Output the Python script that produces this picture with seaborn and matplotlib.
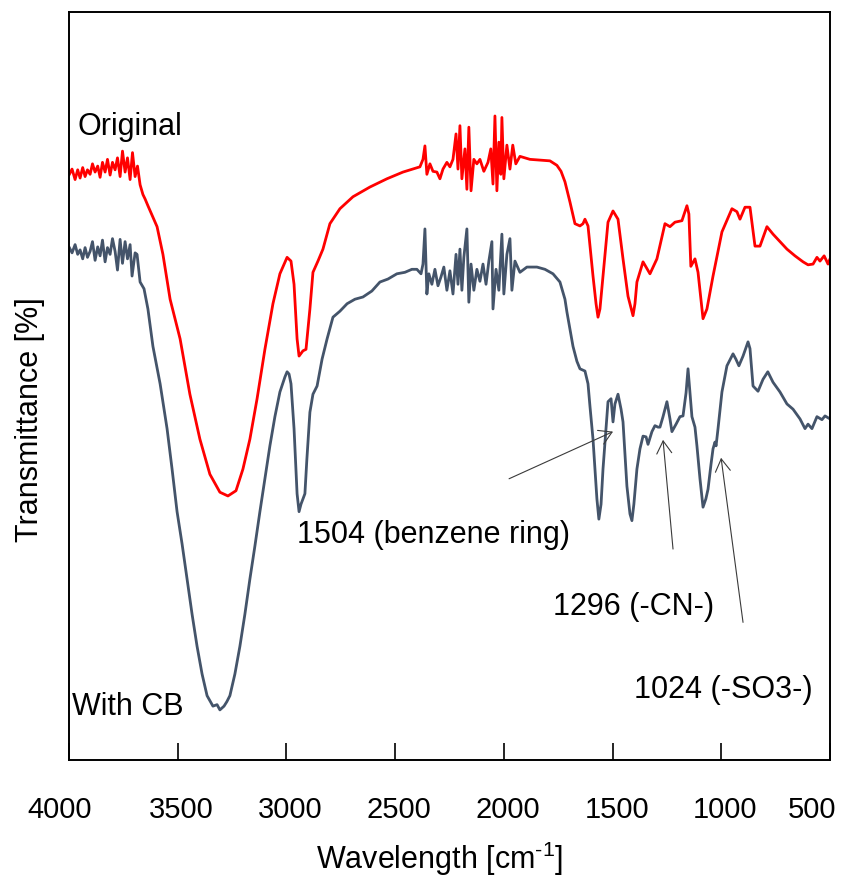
import numpy as np
import pandas as pd
import matplotlib
matplotlib.use("Agg")
import matplotlib.pyplot as plt
import matplotlib.transforms as mtransforms
import seaborn as sns

# ---------------- data ----------------
orig_wn = [4000, 3986, 3972, 3960, 3949, 3937, 3926, 3915, 3903, 3892, 3880, 3868, 3857, 3846, 3834,
           3823, 3811, 3800, 3788, 3777, 3765, 3754, 3742, 3731, 3719, 3708, 3696, 3685, 3673, 3660,
           3650, 3637, 3595, 3568, 3535, 3489, 3444, 3398, 3352, 3306, 3269, 3232, 3200, 3168, 3135,
           3099, 3062, 3030, 2997, 2979, 2965, 2951, 2942, 2924, 2910, 2892, 2878, 2855, 2832, 2800,
           2754, 2694, 2616, 2538, 2464, 2386, 2372, 2363, 2354, 2340, 2326, 2308, 2294, 2280, 2262,
           2248, 2234, 2220, 2211, 2202, 2193, 2179, 2170, 2161, 2151, 2138, 2124, 2110, 2092, 2073,
           2060, 2050, 2041, 2032, 2023, 2014, 2009, 2000, 1986, 1972, 1959, 1945, 1926, 1880, 1834,
           1788, 1756, 1737, 1719, 1696, 1673, 1650, 1636, 1627, 1613, 1590, 1576, 1567, 1558, 1544,
           1521, 1498, 1475, 1452, 1429, 1406, 1397, 1388, 1360, 1328, 1296, 1259, 1236, 1213, 1181,
           1158, 1149, 1140, 1121, 1107, 1084, 1066, 1038, 997, 951, 928, 914, 891, 868, 845,
           822, 790, 762, 698, 661, 624, 601, 578, 560, 546, 527, 509, 500]
orig_T = [78.2, 79.0, 77.6, 78.9, 77.8, 79.2, 78.0, 78.9, 78.3, 79.7, 78.6, 79.4, 77.9, 79.9, 78.6,
          80.3, 78.2, 79.9, 78.9, 80.5, 78.0, 81.4, 78.6, 80.5, 77.6, 81.2, 78.0, 79.4, 76.9, 75.6,
          75.0, 74.1, 71.3, 67.6, 61.6, 56.3, 48.9, 42.9, 38.2, 35.8, 35.3, 36.0, 38.9, 42.9, 48.3,
          54.9, 61.0, 65.0, 67.2, 66.7, 63.6, 56.3, 54.0, 54.7, 54.9, 60.3, 65.2, 66.7, 68.3, 71.7,
          73.7, 75.3, 76.6, 77.7, 78.6, 79.3, 80.3, 82.1, 78.3, 79.7, 78.7, 78.6, 77.7, 79.0, 79.9,
          79.3, 80.3, 83.7, 79.0, 84.8, 77.7, 81.7, 76.3, 84.6, 76.1, 80.3, 79.7, 80.3, 78.7, 79.9,
          81.7, 77.0, 86.1, 76.1, 82.6, 78.3, 85.9, 77.7, 82.2, 79.0, 82.2, 79.7, 80.7, 80.3, 80.2,
          80.1, 79.5, 78.7, 77.3, 74.6, 71.7, 71.4, 71.7, 72.3, 71.4, 64.7, 61.0, 59.2, 60.3, 64.7,
          71.9, 73.4, 72.3, 67.0, 62.0, 59.4, 61.0, 63.9, 66.6, 65.0, 67.0, 71.7, 71.3, 71.9, 72.1,
          74.1, 73.0, 66.0, 67.0, 65.2, 59.0, 60.3, 64.7, 70.6, 73.7, 73.3, 72.3, 73.9, 73.9, 68.7,
          68.7, 71.3, 70.3, 68.3, 67.4, 66.6, 66.2, 66.3, 67.2, 66.7, 67.4, 66.3, 67.0]

cb_wn = [4000, 3986, 3972, 3960, 3949, 3937, 3926, 3915, 3903, 3892, 3880, 3868, 3857, 3846, 3834,
         3823, 3811, 3800, 3788, 3777, 3765, 3754, 3742, 3731, 3719, 3710, 3696, 3687, 3673, 3655,
         3637, 3614, 3581, 3549, 3526, 3503, 3480, 3457, 3434, 3411, 3388, 3365, 3338, 3319, 3306,
         3287, 3274, 3260, 3237, 3214, 3191, 3168, 3145, 3122, 3099, 3076, 3053, 3030, 3007, 2997,
         2988, 2979, 2965, 2951, 2942, 2933, 2924, 2915, 2906, 2892, 2878, 2859, 2836, 2813, 2786,
         2754, 2721, 2685, 2648, 2607, 2570, 2533, 2492, 2455, 2423, 2400, 2381, 2372, 2363, 2354,
         2345, 2331, 2317, 2303, 2289, 2276, 2262, 2248, 2234, 2220, 2211, 2202, 2193, 2184, 2170,
         2161, 2151, 2138, 2124, 2110, 2096, 2082, 2069, 2055, 2050, 2036, 2023, 2009, 2000, 1986,
         1972, 1963, 1949, 1926, 1894, 1848, 1811, 1774, 1742, 1719, 1710, 1696, 1682, 1664, 1650,
         1627, 1613, 1604, 1590, 1581, 1572, 1563, 1553, 1544, 1530, 1521, 1507, 1498, 1489, 1475,
         1461, 1452, 1443, 1434, 1420, 1411, 1402, 1388, 1374, 1360, 1346, 1337, 1319, 1305, 1291,
         1282, 1268, 1250, 1236, 1227, 1208, 1190, 1176, 1162, 1153, 1144, 1135, 1121, 1112, 1098,
         1084, 1071, 1061, 1047, 1038, 1029, 1024, 1015, 997, 974, 946, 933, 919, 900, 877,
         868, 854, 831, 808, 786, 762, 730, 698, 670, 638, 615, 601, 583, 560, 537,
         523, 500]
cb_T = [68.6, 67.8, 68.9, 67.6, 68.2, 67.0, 68.5, 67.2, 68.0, 69.3, 66.8, 68.6, 67.4, 69.5, 66.6,
        68.5, 67.6, 69.7, 68.0, 65.5, 69.6, 66.4, 69.3, 67.0, 68.9, 64.7, 67.8, 67.6, 63.9, 63.0,
        60.3, 55.3, 50.3, 44.3, 38.9, 33.2, 28.9, 24.2, 19.5, 15.2, 11.5, 8.6, 7.2, 7.4, 6.7,
        7.2, 7.8, 8.6, 11.5, 15.2, 19.5, 24.2, 28.6, 33.2, 37.6, 42.0, 45.9, 49.2, 51.2, 51.9,
        51.6, 50.3, 44.3, 35.6, 33.2, 34.2, 34.9, 35.6, 40.2, 46.5, 48.9, 50.0, 53.6, 56.3, 59.2,
        60.0, 61.0, 61.6, 61.9, 62.7, 63.9, 64.3, 65.0, 65.2, 65.6, 65.6, 65.0, 66.3, 71.0, 62.3,
        65.0, 63.6, 65.6, 63.4, 64.6, 65.9, 62.8, 65.4, 62.3, 67.6, 63.6, 68.3, 62.8, 67.2, 71.0,
        61.2, 66.3, 62.8, 65.6, 64.0, 66.3, 63.6, 66.7, 69.3, 60.3, 65.6, 62.8, 70.3, 62.3, 67.6,
        69.7, 62.8, 66.7, 65.2, 65.9, 65.9, 65.6, 65.0, 63.9, 61.6, 59.9, 57.6, 55.3, 53.3, 52.3,
        52.0, 50.3, 47.3, 42.9, 38.9, 34.9, 32.2, 34.2, 38.9, 44.3, 47.9, 48.3, 45.2, 47.6, 48.9,
        46.9, 45.2, 40.9, 36.6, 32.9, 32.0, 34.2, 38.9, 41.6, 43.3, 43.2, 42.2, 43.9, 44.7, 44.5,
        44.5, 45.9, 47.9, 45.6, 43.9, 44.9, 45.9, 46.0, 49.1, 52.3, 49.1, 45.9, 44.5, 42.0, 37.6,
        33.8, 34.9, 36.2, 39.6, 41.6, 42.5, 42.0, 44.3, 49.2, 52.7, 54.3, 53.6, 52.7, 54.0, 55.9,
        55.0, 50.0, 49.3, 50.9, 51.9, 50.5, 49.2, 47.6, 46.9, 45.6, 44.3, 44.9, 44.3, 45.9, 45.5,
        46.0, 45.6]

x_ticks = [4000, 3500, 3000, 2500, 2000, 1500, 1000, 500]

series_labels = ["Original", "With CB"]
series_colors = ["#FF0000", "#44546A"]

annot_texts = ["1504 (benzene ring)", "1296 (-CN-)", "1024 (-SO3-)"]
annot_text_pos = [(2951, 30.2), (1774, 20.6), (1402, 9.5)]
arrow_heads = [(1498, 43.9), (1268, 42.8), (1001, 40.4)]
arrow_tails = [(1976, 37.6), (1222, 28.2), (900, 18.4)]

# ---------------- figure ----------------
sns.set_theme(style="white")
plt.rcParams["font.family"] = ["Liberation Sans", "DejaVu Sans"]
plt.rcParams["mathtext.default"] = "regular"

fig = plt.figure(figsize=(8.41, 8.78), dpi=100)
ax = fig.add_axes([69 / 841, 1 - 761 / 878, (830 - 69) / 841, (761 - 13) / 878])

df_o = pd.DataFrame({"wn": orig_wn, "T": orig_T})
df_c = pd.DataFrame({"wn": cb_wn, "T": cb_T})
sns.lineplot(data=df_o, x="wn", y="T", ax=ax, color=series_colors[0], lw=2.0,
             estimator=None, sort=False)
sns.lineplot(data=df_c, x="wn", y="T", ax=ax, color=series_colors[1], lw=2.0,
             estimator=None, sort=False)

ax.set_xlim(4000, 500)
ax.set_ylim(0, 100)
ax.set_xticks(x_ticks)
ax.set_xticklabels([str(t) for t in x_ticks])
ax.set_yticks([])
ax.tick_params(axis="x", direction="in", length=12, width=1.2, color="black",
               labelsize=21, pad=25, labelcolor="black", bottom=True)
for s in ax.spines.values():
    s.set_color("black")
    s.set_linewidth(1.4)

# small horizontal offsets of tick labels like the reference
offsets_px = {4000: -9, 500: -18}
for t, lab in zip(x_ticks, ax.get_xticklabels()):
    dx = offsets_px.get(t, 4) / 100.0
    lab.set_transform(lab.get_transform() + mtransforms.ScaledTranslation(dx, 0, fig.dpi_scale_trans))

ax.set_xlabel("Wavelength [cm$^{\u2010 1}$]", fontsize=22, color="black")
ax.set_ylabel("Transmittance [%]", fontsize=22, color="black")
ax.xaxis.set_label_coords((440 - 69) / 761, (761 - 859) / 748)
ax.xaxis.label.set_verticalalignment("center")
ax.yaxis.set_label_coords((30 - 69) / 761, (761 - 420) / 748)
ax.yaxis.label.set_verticalalignment("center")

# series labels
ax.text(3959, 84.8, series_labels[0], fontsize=22, ha="left", va="center", color="black")
ax.text(3986, 7.2, series_labels[1], fontsize=22, ha="left", va="center", color="black")

# annotations
for txt, (tx, ty) in zip(annot_texts, annot_text_pos):
    ax.text(tx, ty, txt, fontsize=22, ha="left", va="center", color="black")
for head, tail in zip(arrow_heads, arrow_tails):
    ax.annotate("", xy=head, xytext=tail,
                arrowprops=dict(arrowstyle="->,head_length=0.5,head_width=0.3",
                                color="#3a3a3a", lw=0.8, mutation_scale=18,
                                shrinkA=0, shrinkB=0))

fig.savefig("out.png", dpi=100, facecolor="white")
